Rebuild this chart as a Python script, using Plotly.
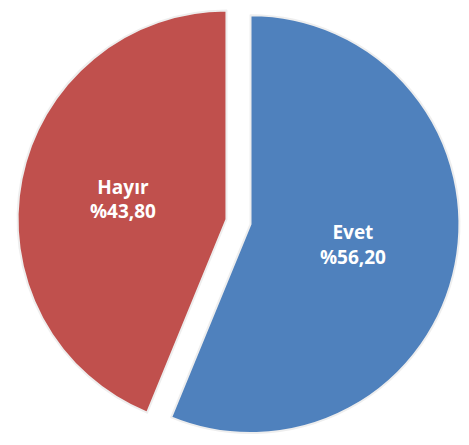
import plotly.graph_objects as go

labels = ["Evet", "Hayır"]
values = [56.20, 43.80]
colors = ["#4F81BD", "#C0504D"]
pulls = [0.0587, 0.0587]

fig = go.Figure(go.Pie(
    labels=labels,
    values=values,
    sort=False,
    direction="clockwise",
    rotation=0,
    pull=pulls,
    marker=dict(colors=colors, line=dict(color="#EEEEEE", width=2)),
    texttemplate="<b>%{label}</b><br><b>%%{value:.2f}</b>",
    textposition="inside",
    insidetextorientation="horizontal",
    textfont=dict(family="Open Sans", size=19, color="white"),
    hoverinfo="skip",
    domain=dict(x=[0.037, 0.98], y=[0.003, 1.0]),
))
fig.update_layout(
    width=469, height=445,
    margin=dict(l=0, r=0, t=0, b=0),
    showlegend=False,
    paper_bgcolor="white",
    separators=",.",
)
fig.write_html("out.html", config={"displayModeBar": False},
               post_script="document.body.style.margin='0';")
